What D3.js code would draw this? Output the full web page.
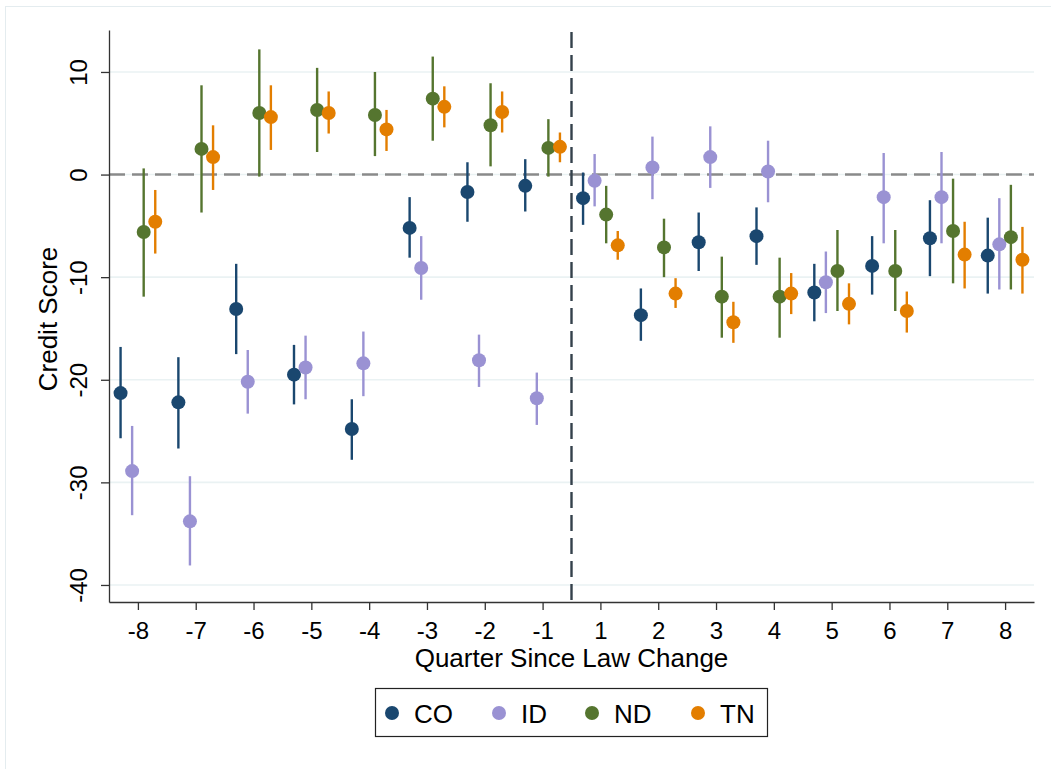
<!DOCTYPE html>
<html>
<head>
<meta charset="utf-8">
<script src="https://cdn.jsdelivr.net/npm/d3@7"></script>
<style>
  html, body { margin: 0; padding: 0; background: #ffffff; }
  svg { display: block; font-family: "Liberation Sans", Arial, Helvetica, sans-serif; }
</style>
</head>
<body>
<svg id="chart" width="1051" height="769"></svg>
<script>
// ---- Data ----
const quarters = [-8, -7, -6, -5, -4, -3, -2, -1, 1, 2, 3, 4, 5, 6, 7, 8];
const seriesNames = ["CO", "ID", "ND", "TN"];
const seriesColors = ["#1a476f", "#9a92d3", "#55752f", "#e37e00"];
const seriesOffsets = [-0.3, -0.1, 0.1, 0.3];

const CO_est = [-21.3, -22.2, -13.1, -19.5, -24.8, -5.2, -1.7, -1.1, -2.3, -13.7, -6.6, -6.0, -11.5, -8.9, -6.2, -7.9];
const CO_lo  = [-25.7, -26.7, -17.5, -22.4, -27.8, -8.1, -4.6, -3.6, -4.9, -16.2, -9.4, -8.8, -14.3, -11.7, -9.9, -11.6];
const CO_hi  = [-16.8, -17.8, -8.7, -16.6, -21.9, -2.2, 1.2, 1.5, 0.2, -11.1, -3.7, -3.2, -8.7, -6.0, -2.5, -4.2];

const ID_est = [-28.9, -33.8, -20.2, -18.8, -18.4, -9.1, -18.1, -21.8, -0.6, 0.7, 1.7, 0.3, -10.5, -2.2, -2.2, -6.8];
const ID_lo  = [-33.2, -38.1, -23.3, -21.9, -21.6, -12.2, -20.7, -24.4, -3.1, -2.4, -1.3, -2.7, -13.5, -6.7, -6.7, -11.2];
const ID_hi  = [-24.5, -29.4, -17.1, -15.7, -15.3, -6.0, -15.6, -19.3, 2.0, 3.7, 4.7, 3.3, -7.5, 2.1, 2.2, -2.3];

const ND_est = [-5.6, 2.5, 6.0, 6.3, 5.8, 7.4, 4.8, 2.6, -3.9, -7.1, -11.9, -11.9, -9.4, -9.4, -5.5, -6.1];
const ND_lo  = [-11.9, -3.7, -0.2, 2.2, 1.8, 3.3, 0.8, -0.2, -6.7, -10.0, -15.9, -15.9, -13.3, -13.3, -10.6, -11.2];
const ND_hi  = [0.6, 8.7, 12.2, 10.4, 10.0, 11.5, 8.9, 5.4, -1.1, -4.3, -8.0, -8.1, -5.4, -5.4, -0.4, -1.0];

const TN_est = [-4.6, 1.7, 5.6, 6.0, 4.4, 6.6, 6.1, 2.7, -6.9, -11.6, -14.4, -11.6, -12.6, -13.3, -7.8, -8.3];
const TN_lo  = [-7.7, -1.5, 2.4, 4.0, 2.3, 4.6, 4.1, 1.2, -8.3, -13.0, -16.4, -13.6, -14.6, -15.4, -11.1, -11.6];
const TN_hi  = [-1.5, 4.8, 8.7, 8.1, 6.3, 8.6, 8.1, 4.1, -5.5, -10.1, -12.4, -9.6, -10.6, -11.4, -4.6, -5.1];

const yTicks = [-40, -30, -20, -10, 0, 10];
const refLineY = 0;          // horizontal reference line
const refLineX = 7.5;        // vertical reference line (between -1 and 1), in index units

// ---- Build series table ----
const estArr = [CO_est, ID_est, ND_est, TN_est];
const loArr = [CO_lo, ID_lo, ND_lo, TN_lo];
const hiArr = [CO_hi, ID_hi, ND_hi, TN_hi];
const series = seriesNames.map((name, s) => ({
  name, color: seriesColors[s], offset: seriesOffsets[s],
  points: quarters.map((q, i) => ({ i, q, est: estArr[s][i], lo: loArr[s][i], hi: hiArr[s][i] }))
}));

// ---- Layout ----
const pL = 109, pR = 1034, pT = 30, pB = 602;
const svg = d3.select("#chart");

// outer light frame
svg.append("rect").attr("x", 5.5).attr("y", 6.5).attr("width", 1100).attr("height", 800)
  .attr("fill", "none").attr("stroke", "#e4ecef").attr("stroke-width", 1);

const x = d3.scaleLinear().domain([-0.5, quarters.length - 0.5]).range([pL, pR]);
const y = d3.scaleLinear().domain([-41.66, 14.09]).range([pB, pT]);

// gridlines
svg.append("g").selectAll("line").data(yTicks).join("line")
  .attr("x1", pL).attr("x2", pR)
  .attr("y1", d => y(d)).attr("y2", d => y(d))
  .attr("stroke", "#eaf2f3").attr("stroke-width", 1.6);

// horizontal dashed line at 0
svg.append("line")
  .attr("x1", pL).attr("x2", pR)
  .attr("y1", y(refLineY)).attr("y2", y(refLineY))
  .attr("stroke", "#8a8a8a").attr("stroke-width", 2.4).attr("stroke-dasharray", "16,7");

// vertical dashed line
svg.append("line")
  .attr("x1", x(refLineX)).attr("x2", x(refLineX))
  .attr("y1", pT + 2).attr("y2", pB)
  .attr("stroke", "#34414b").attr("stroke-width", 2.4).attr("stroke-dasharray", "16,7");

// axes
const yAxis = d3.axisLeft(y).tickValues(yTicks).tickSize(8).tickSizeOuter(0).tickFormat(d => String(d));
const gy = svg.append("g").attr("transform", `translate(${pL},0)`).call(yAxis);
gy.select(".domain").attr("stroke", "#333").attr("stroke-width", 1.3);
gy.selectAll(".tick line").attr("stroke", "#333").attr("stroke-width", 1.3);
gy.selectAll(".tick text")
  .attr("x", null).attr("dy", null)
  .attr("text-anchor", "middle")
  .attr("transform", "translate(-22,0) rotate(-90)")
  .attr("font-size", 24).attr("fill", "#000")
  .style("font-family", "'Liberation Sans', Arial, sans-serif");

const xAxis = d3.axisBottom(x).tickValues(d3.range(quarters.length)).tickSize(8).tickSizeOuter(0)
  .tickFormat(i => String(quarters[i]));
const gx = svg.append("g").attr("transform", `translate(0,${pB})`).call(xAxis);
gx.select(".domain").attr("stroke", "#333").attr("stroke-width", 1.3);
gx.selectAll(".tick line").attr("stroke", "#333").attr("stroke-width", 1.3);
gx.selectAll(".tick text").attr("y", 37).attr("dy", null)
  .attr("font-size", 24).attr("fill", "#000")
  .style("font-family", "'Liberation Sans', Arial, sans-serif");

// axis titles
svg.append("text").attr("x", (pL + pR) / 2).attr("y", 667)
  .attr("text-anchor", "middle").attr("font-size", 26).attr("fill", "#000")
  .text("Quarter Since Law Change");
svg.append("text").attr("transform", `translate(57,${(pT + pB) / 2 + 3}) rotate(-90)`)
  .attr("text-anchor", "middle").attr("font-size", 26).attr("fill", "#000")
  .text("Credit Score");

// CI lines and markers
const gS = svg.append("g").selectAll("g").data(series).join("g");
gS.selectAll("line").data(d => d.points.map(p => ({ ...p, color: d.color, offset: d.offset }))).join("line")
  .attr("x1", p => x(p.i + p.offset)).attr("x2", p => x(p.i + p.offset))
  .attr("y1", p => y(p.lo)).attr("y2", p => y(p.hi))
  .attr("stroke", p => p.color).attr("stroke-width", 2.4);
gS.selectAll("circle").data(d => d.points.map(p => ({ ...p, color: d.color, offset: d.offset }))).join("circle")
  .attr("cx", p => x(p.i + p.offset)).attr("cy", p => y(p.est)).attr("r", 7)
  .attr("fill", p => p.color);

// legend
const lg = svg.append("g");
lg.append("rect").attr("x", 375.5).attr("y", 688.5).attr("width", 392).attr("height", 48)
  .attr("fill", "#fff").attr("stroke", "#222").attr("stroke-width", 1.2);
const legendX = [392, 499, 592, 698];
const li = lg.selectAll("g.item").data(series).join("g").attr("class", "item")
  .attr("transform", (d, k) => `translate(${legendX[k]},713)`);
li.append("circle").attr("r", 7).attr("fill", d => d.color);
li.append("text").attr("x", 22).attr("y", 10).attr("font-size", 26).attr("fill", "#000").text(d => d.name);
</script>
</body>
</html>
